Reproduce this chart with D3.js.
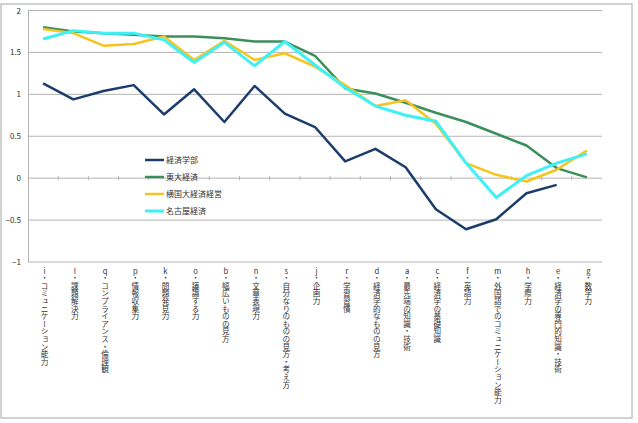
<!DOCTYPE html>
<html>
<head>
<meta charset="utf-8">
<script src="https://cdn.jsdelivr.net/npm/d3@7"></script>
<style>
  body { margin: 0; background: #fff; }
  #chart { position: relative; width: 638px; height: 423px; }
  svg { position: absolute; left: 0; top: 0; }
  svg text { font-family: "Noto Sans CJK JP", "Noto Sans", sans-serif; fill: #333; }
  .cat {
    position: absolute;
    font-family: "Noto Sans CJK JP", sans-serif;
    font-size: 7.6px;
    line-height: 10px;
    color: #333;
    writing-mode: vertical-rl;
    text-orientation: upright;
    transform: translateX(-50%);
    white-space: nowrap;
  }
</style>
</head>
<body>
<div id="chart"></div>
<script>
const codes = ['i','l','q','p','k','o','b','n','s','j','r','d','a','c','f','m','h','e','g'];
const labels = [
  'コミュニケーション能力','課題解決力','コンプライアンス・倫理観','情報収集力','問題発見力',
  '議論する力','幅広いものの見方','文章表現力','自分なりのものの見方・考え方','企画力',
  '学習習慣','経済学的なものの見方','最先端の知識・技術','経済学の基礎知識','英語力',
  '外国語でのコミュニケーション能力','学際力','経済学の専門的知識・技術','数学力'
];

const keizai = [1.13, 0.94, 1.04, 1.11, 0.76, 1.06, 0.67, 1.10, 0.77, 0.61, 0.20, 0.35, 0.13, -0.37, -0.61, -0.49, -0.18, -0.08, null];
const todai = [1.80, 1.75, 1.73, 1.71, 1.69, 1.69, 1.67, 1.63, 1.63, 1.46, 1.07, 1.01, 0.90, 0.78, 0.67, 0.53, 0.39, 0.12, 0.01];
const yokokoku = [1.78, 1.73, 1.58, 1.60, 1.69, 1.41, 1.64, 1.41, 1.49, 1.33, 1.11, 0.86, 0.93, 0.65, 0.18, 0.04, -0.04, 0.10, 0.33];
const nagoya = [1.66, 1.76, 1.73, 1.73, 1.65, 1.38, 1.62, 1.34, 1.63, 1.35, 1.08, 0.86, 0.75, 0.68, 0.18, -0.23, 0.03, 0.18, 0.29];

const yTicks = [2, 1.5, 1, 0.5, 0, -0.5, -1];

const series = [
  { name: '経済学部', values: keizai, color: '#1b3c6c', width: 2.5 },
  { name: '東大経済', values: todai, color: '#3c8e5d', width: 2.5 },
  { name: '横国大経済経営', values: yokokoku, color: '#f7c41d', width: 2.5 },
  { name: '名古屋経済', values: nagoya, color: '#3ef1f7', width: 3 }
];

const W = 638, H = 423;
const chart = d3.select('#chart');
const svg = chart.append('svg')
  .attr('width', W).attr('height', H);

// outer frame
svg.append('rect')
  .attr('x', 1).attr('y', 4).attr('width', 631).attr('height', 414)
  .attr('fill', '#fff').attr('stroke', '#c4c4c4').attr('stroke-width', 1.5);

const x = d3.scaleBand().domain(codes).range([28, 602]);
const y = d3.scaleLinear().domain([-1, 2]).range([262, 10.5]);

// gridlines
svg.append('g')
  .selectAll('line')
  .data(yTicks)
  .enter().append('line')
  .attr('x1', 28).attr('x2', 602)
  .attr('y1', d => y(d)).attr('y2', d => y(d))
  .attr('stroke', '#b4b4b4').attr('stroke-width', 1);

// y axis
const yAxis = svg.append('g')
  .attr('transform', 'translate(28,0)')
  .call(d3.axisLeft(y).tickValues(yTicks).tickSize(0).tickPadding(7)
    .tickFormat(d => d < 0 ? '−' + Math.abs(d) : String(d)));
yAxis.select('.domain').attr('stroke', '#b4b4b4');
yAxis.selectAll('text').style('font-size', '8px').attr('font-family', null);

// category ticks on the zero line
svg.append('g')
  .selectAll('line')
  .data(codes.slice(1))
  .enter().append('line')
  .attr('x1', d => x(d)).attr('x2', d => x(d))
  .attr('y1', y(0) - 2).attr('y2', y(0) + 2)
  .attr('stroke', '#b4b4b4');

// category labels (vertical, html so upright CJK works)
chart.selectAll('div.cat')
  .data(codes)
  .enter().append('div')
  .attr('class', 'cat')
  .style('left', d => (x(d) + x.bandwidth() / 2 + 1) + 'px')
  .style('top', '267px')
  .text((d, i) => d + '・' + labels[i]);

// lines
const line = d3.line()
  .defined(d => d.v !== null)
  .x(d => x(d.c) + x.bandwidth() / 2)
  .y(d => y(d.v));

svg.append('g')
  .selectAll('path')
  .data(series)
  .enter().append('path')
  .attr('fill', 'none')
  .attr('stroke', d => d.color)
  .attr('stroke-width', d => d.width)
  .attr('stroke-linejoin', 'round')
  .attr('d', d => line(d.values.map((v, i) => ({ c: codes[i], v }))));

// legend
const legend = svg.append('g')
  .selectAll('g')
  .data(series)
  .enter().append('g')
  .attr('transform', (d, i) => `translate(145,${160 + i * 17})`);

legend.append('line')
  .attr('x1', 0).attr('x2', 19)
  .attr('stroke', d => d.color)
  .attr('stroke-width', d => d.width);

legend.append('text')
  .attr('x', 21).attr('y', 3)
  .style('font-size', '8px')
  .text(d => d.name);
</script>
</body>
</html>
